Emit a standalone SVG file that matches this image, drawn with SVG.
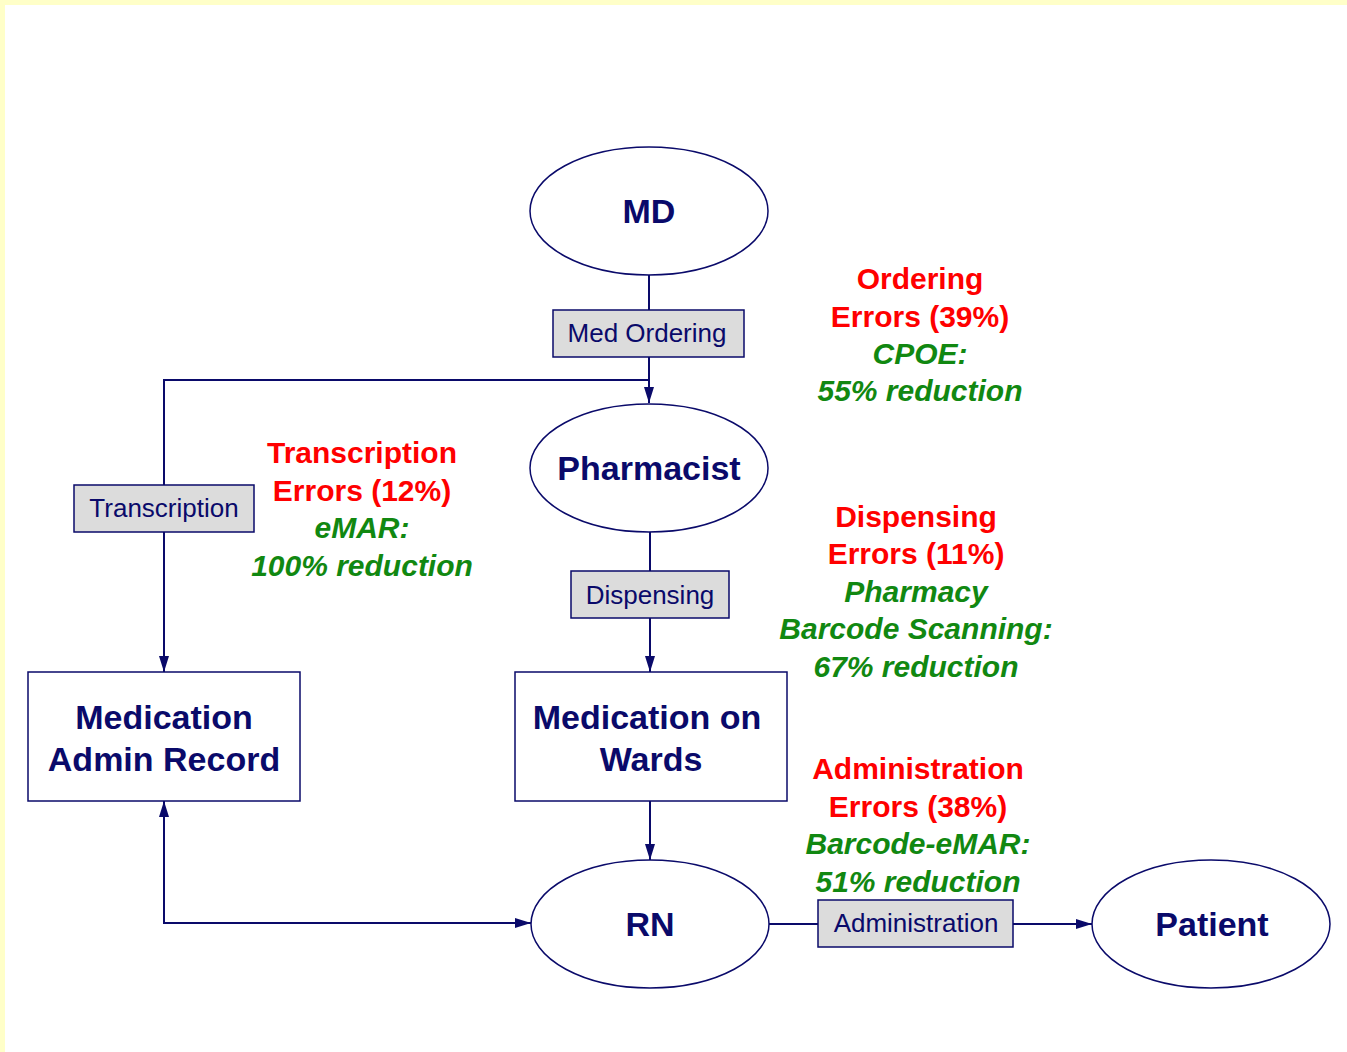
<svg xmlns="http://www.w3.org/2000/svg" width="1347" height="1052" viewBox="0 0 1347 1052">
<defs>
<marker id="ah" viewBox="0 0 16 10" refX="16" refY="5" markerWidth="16" markerHeight="10" markerUnits="userSpaceOnUse" orient="auto-start-reverse">
<path d="M0,0 L16,5 L0,10 Z" fill="#0a0a6a"/>
</marker>
<style>
.node{fill:#fff;stroke:#0a0a6a;stroke-width:1.5}
.lab{fill:#dcdcdc;stroke:#0a0a6a;stroke-width:1.5}
.edge{fill:none;stroke:#0a0a6a;stroke-width:2}
.nt{font-family:"Liberation Sans",Arial,sans-serif;font-weight:bold;font-size:34px;fill:#0a0a6a;text-anchor:middle}
.lt{font-family:"Liberation Sans",Arial,sans-serif;font-size:26px;fill:#0a0a6a;text-anchor:middle}
.red{font-family:"Liberation Sans",Arial,sans-serif;font-weight:bold;font-size:30px;fill:#ff0000;text-anchor:middle}
.grn{font-family:"Liberation Sans",Arial,sans-serif;font-weight:bold;font-style:italic;font-size:30px;fill:#118811;text-anchor:middle}
</style>
</defs>
<rect x="0" y="0" width="1347" height="1052" fill="#ffffc8"/>
<rect x="5" y="5" width="1342" height="1047" fill="#ffffff"/>

<g id="connectors">
<path class="edge" d="M649,275 V403" marker-end="url(#ah)"/>
<path class="edge" d="M649,380 H164 V672" marker-end="url(#ah)"/>
<path class="edge" d="M650,532 V672" marker-end="url(#ah)"/>
<path class="edge" d="M650,801 V860" marker-end="url(#ah)"/>
<path class="edge" d="M164,801 V923 H531" marker-start="url(#ah)" marker-end="url(#ah)"/>
<path class="edge" d="M769,924 H1092" marker-end="url(#ah)"/>
</g>

<g id="md"><ellipse class="node" cx="649" cy="211" rx="119" ry="64"/><text class="nt" x="649" y="223">MD</text></g>
<g id="pharmacist"><ellipse class="node" cx="649" cy="468" rx="119" ry="64"/><text class="nt" x="649" y="480">Pharmacist</text></g>
<g id="rn"><ellipse class="node" cx="650" cy="924" rx="119" ry="64"/><text class="nt" x="650" y="936">RN</text></g>
<g id="patient"><ellipse class="node" cx="1211" cy="924" rx="119" ry="64"/><text class="nt" x="1212" y="936">Patient</text></g>
<g id="mar"><rect class="node" x="28" y="672" width="272" height="129"/><text class="nt" x="164" y="729">Medication</text><text class="nt" x="164" y="771">Admin Record</text></g>
<g id="wards"><rect class="node" x="515" y="672" width="272" height="129"/><text class="nt" x="647" y="729">Medication on</text><text class="nt" x="651" y="771">Wards</text></g>

<g id="lbl-ordering"><rect class="lab" x="553" y="310" width="191" height="47"/><text class="lt" x="647" y="342">Med Ordering</text></g>
<g id="lbl-transcription"><rect class="lab" x="74" y="485" width="180" height="47"/><text class="lt" x="164" y="517">Transcription</text></g>
<g id="lbl-dispensing"><rect class="lab" x="571" y="571" width="158" height="47"/><text class="lt" x="650" y="604">Dispensing</text></g>
<g id="lbl-administration"><rect class="lab" x="818" y="900" width="195" height="47"/><text class="lt" x="916" y="932">Administration</text></g>

<g id="note-ordering">
<text class="red" x="920" y="289">Ordering</text>
<text class="red" x="920" y="327">Errors (39%)</text>
<text class="grn" x="920" y="364">CPOE:</text>
<text class="grn" x="920" y="401">55% reduction</text>
</g>
<g id="note-transcription">
<text class="red" x="362" y="463">Transcription</text>
<text class="red" x="362" y="501">Errors (12%)</text>
<text class="grn" x="362" y="538">eMAR:</text>
<text class="grn" x="362" y="576">100% reduction</text>
</g>
<g id="note-dispensing">
<text class="red" x="916" y="527">Dispensing</text>
<text class="red" x="916" y="564">Errors (11%)</text>
<text class="grn" x="916" y="602">Pharmacy</text>
<text class="grn" x="916" y="639">Barcode Scanning:</text>
<text class="grn" x="916" y="677">67% reduction</text>
</g>
<g id="note-administration">
<text class="red" x="918" y="779">Administration</text>
<text class="red" x="918" y="817">Errors (38%)</text>
<text class="grn" x="918" y="854">Barcode-eMAR:</text>
<text class="grn" x="918" y="892">51% reduction</text>
</g>
</svg>
